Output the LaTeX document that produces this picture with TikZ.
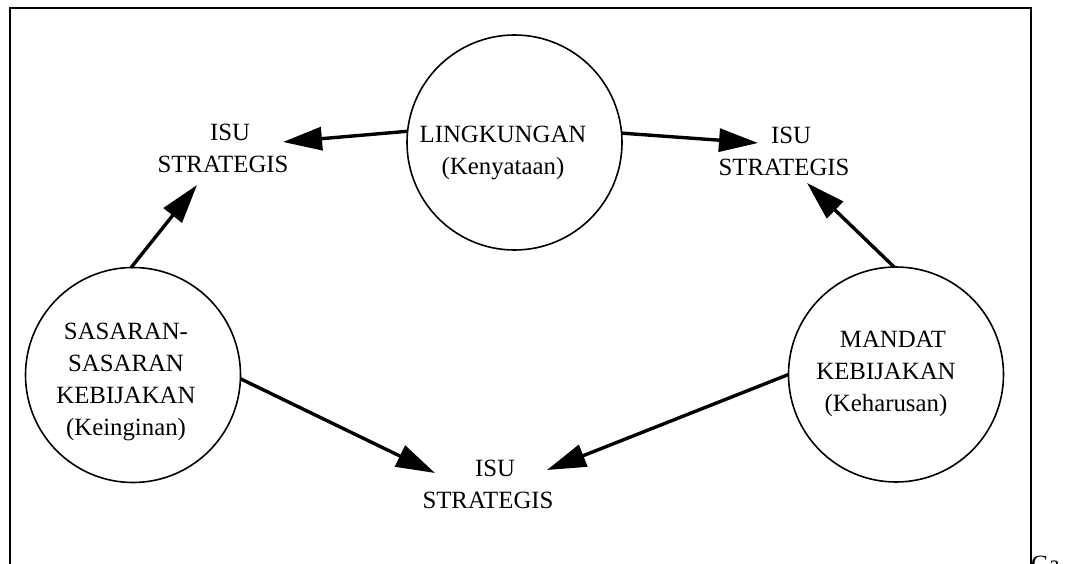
\documentclass[tikz,border=0pt]{standalone}
\usepackage{fontspec}
\setmainfont{Liberation Serif}
\usetikzlibrary{arrows.meta}
\begin{document}
\begin{tikzpicture}[x=1pt,y=-1pt,
  every node/.style={inner sep=0pt, outer sep=0pt},
  % multi-line labels are placed by the baseline of their last line
  txt/.style={font=\fontsize{24.8}{32}\selectfont, align=center, anchor=base},
  ring/.style={circle, draw, line width=1.6pt, minimum size=215pt},
  link/.style={line width=3.4pt, -{Triangle[length=39pt,width=23pt]}}]
\useasboundingbox (0,0) rectangle (1068,564);
\clip (0,0) rectangle (1068,564);

% open frame
\draw[line width=2pt] (10,564) -- (10,7.7) -- (1030.5,7.7) -- (1030.5,564);
\node[font=\fontsize{24.8}{32}\selectfont, anchor=base west] (ga) at (1031,572) {Ga};

% circles
\node[ring] (env) at (514.5,142.5) {};
\node[ring] (goal) at (133,375) {};
\node[ring] (mand) at (896,374.5) {};

% circle texts
\node[txt] (envtxt) at (503,175) {LINGKUNGAN\\(Kenyataan)};
\node[txt] (goaltxt) at (126,435) {SASARAN-\\SASARAN\\KEBIJAKAN\\(Keinginan)};
\node[txt] (mandtxt) at (886,411) {\hspace*{14pt}MANDAT\\KEBIJAKAN\\(Keharusan)};

% strategic issues
\node[txt] (isuL) at (223,173) {\hspace*{14pt}ISU\\STRATEGIS};
\node[txt] (isuR) at (784,176) {\hspace*{14pt}ISU\\STRATEGIS};
\node[txt] (isuB) at (488,508) {\hspace*{14pt}ISU\\STRATEGIS};

% arrow tips next to the issue labels
\coordinate (tL1) at (283,142);
\coordinate (tL2) at (197,185);
\coordinate (tR1) at (758,143);
\coordinate (tR2) at (807,183);
\coordinate (tB1) at (435,473);
\coordinate (tB2) at (547,470);

% connectors
\draw[link] (env.174.4) -- (tL1);
\draw[link] (env.5.6) -- (tR1);
\draw[link] (goal.91.6) -- (tL2);
\draw[link] (mand.91) -- (tR2);
\draw[link] (goal.-2.7) -- (tB1);
\draw[link] (mand.180.3) -- (tB2);
\end{tikzpicture}
\end{document}
